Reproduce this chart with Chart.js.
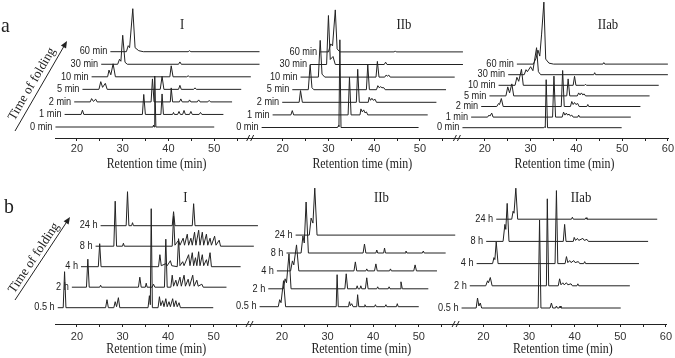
<!DOCTYPE html>
<html>
<head>
<meta charset="utf-8">
<script src="https://cdn.jsdelivr.net/npm/chart.js@4.4.1/dist/chart.umd.min.js"></script>
<style>
html, body { margin: 0; padding: 0; background: #fff; }
#wrap { position: relative; width: 675px; height: 358px; overflow: hidden; }
canvas { position: absolute; left: 0; }
</style>
</head>
<body>
<div id="wrap">
  <canvas id="rowA" width="675" height="175" style="top:0"></canvas>
  <canvas id="rowB" width="675" height="183" style="top:175px"></canvas>
</div>
<script>
// folding times (one trace each) and panel names
const panelNames = ["I", "IIb", "IIab"];
const timesA = ["0 min", "1 min", "2 min", "5 min", "10 min", "30 min", "60 min"];
const timesB = ["0.5 h", "2 h", "4 h", "8 h", "24 h"];
const xAxisTitle = "Retention time (min)";
const yArrowTitle = "Time of folding";

// start/end of each trace, read on the panel's own axis (min)
const spansAI = [[15.3, 50], [17.3, 52], [19.4, 53.9], [21.2, 55.9], [23.2, 58], [25.3, 59.9], [27.3, 59.9]];
const spansAIIb = [[15.4, 49.7], [17.8, 51.7], [19.9, 53.6], [22.1, 55.7], [23.9, 57.6], [26.0, 59.4], [28.2, 59.4]];
const spansAIIab = [[15.1, 49.9], [17.0, 51.9], [19.2, 54], [21.0, 56], [23.0, 58], [25.1, 60], [27.0, 60]];
const spansBI = [[15.8, 49.9], [18.9, 52.8], [20.9, 55.9], [24.1, 58.8], [25.2, 59.7]];
const spansBIIb = [[15.1, 50.0], [17.0, 52.1], [18.9, 54.0], [21.0, 55.9], [23.0, 58.0]];
const spansBIIab = [[15.2, 50.1], [17.0, 52.1], [18.5, 54.1], [20.6, 56.1], [22.8, 58.1]];

// chromatogram points [time, height above the trace baseline, ...]
const peaksAI = [
  [36.6,0, 36.75,2, 36.85,0, 37.0,51, 37.25,0],
  [20.9,0, 21.2,4.3, 21.5,0, 34.3,0, 34.6,20, 34.95,0, 38.35,0, 38.6,20.5, 38.9,0, 40.9,0, 41.1,2, 41.3,0, 42.0,0, 42.3,3, 42.6,0, 43.1,0, 43.4,4, 43.7,0, 44.6,0, 44.9,3, 45.2,0, 46.7,0, 47.0,2, 47.3,0],
  [22.9,0, 23.2,3.3, 23.6,0.5, 24.1,2.7, 24.4,0, 36.2,0, 36.5,23, 36.85,0, 40.4,0, 40.6,14, 40.9,0, 42.4,0, 42.7,3, 43.0,0, 44.4,0, 44.6,2, 44.9,0, 46.3,0, 46.6,2, 46.9,0, 48.6,0, 48.9,1.5, 49.2,0],
  [24.8,0, 25.2,7.7, 25.6,2, 26.2,6, 26.6,0, 38.2,0, 38.6,13, 39.0,0, 42.2,0, 42.5,4, 42.8,0, 45.5,0, 45.8,1.5, 46.1,0],
  [26.7,0, 27.0,6.7, 27.4,2, 27.9,13, 28.4,0, 40.3,0, 40.6,11, 41.0,0, 44.0,0, 44.3,1, 44.6,0],
  [28.9,0, 29.3,5, 29.6,3, 30.0,29, 30.5,2, 31.0,0, 42.2,0, 42.5,2.3, 42.8,0],
  [30.8,0, 31.2,6, 31.5,4, 32.2,43, 32.7,4, 33.5,1, 34.5,0, 44.3,0, 44.6,1, 44.9,0]
];
const peaksAIIb = [
  [32.0,0, 32.2,2, 32.3,1, 32.5,87.7, 32.75,0],
  [21.8,0, 22.1,4.3, 22.4,0, 34.3,0, 34.6,37.7, 34.95,0, 36.9,0, 37.1,6, 37.4,3, 37.7,5, 38.0,2, 38.3,3, 38.6,0],
  [23.6,0, 23.9,11.7, 24.3,0, 36.1,0, 36.4,33, 36.75,0, 38.7,0, 38.9,5, 39.2,2, 39.5,4, 39.8,2, 40.2,3, 40.5,0],
  [25.6,0, 26.0,25, 26.4,2, 26.8,0, 38.3,0, 38.6,25, 38.95,0, 40.5,0, 40.8,4, 41.1,2, 41.4,3, 41.7,2, 42.1,2, 42.4,0],
  [27.8,0, 28.2,36.7, 28.6,3, 29.2,0, 40.4,0, 40.7,15.7, 41.05,0, 42.3,0, 42.6,2, 42.9,1, 43.2,2, 43.5,0],
  [29.6,0, 30.0,49, 30.4,5, 31.0,8, 31.5,0, 42.2,0, 42.5,2.3, 42.8,0],
  [30.0,0, 30.5,8, 30.9,6, 31.5,42, 31.9,3, 32.5,0, 44.4,0, 44.6,1, 44.8,0]
];
const peaksAIIab = [
  [32.9,0, 33.1,1, 33.2,0, 33.4,48, 33.7,0],
  [20.6,0, 20.9,2, 21.1,1, 21.5,4, 21.8,0, 34.8,0, 35.1,41, 35.45,0, 36.9,0, 37.2,5, 37.5,2, 37.8,4, 38.1,2, 38.4,3, 38.7,1, 39.0,2, 39.3,0, 40.3,0, 40.5,2, 40.7,0],
  [22.6,0, 23.0,3, 23.2,2, 23.6,8, 24.0,0, 36.7,0, 37.0,36, 37.35,0, 38.7,0, 39.0,5, 39.3,2, 39.6,4, 39.9,2, 40.3,3, 40.6,0, 42.3,0, 42.5,2, 42.7,0],
  [24.6,0, 25.0,9, 25.4,3, 25.9,12, 26.3,0, 37.9,0, 38.2,17, 38.55,0, 40.2,0, 40.5,3, 40.8,1, 41.1,3, 41.4,1, 41.7,2, 42.0,0],
  [26.6,0, 27.0,8, 27.4,4, 28.0,16, 28.4,0, 39.3,0, 39.6,9, 39.9,0, 41.8,0, 42.0,1, 42.2,0],
  [28.6,0, 29.0,5, 29.3,3, 30.0,8, 30.5,4, 31.3,27, 31.7,3, 32.2,0, 43.8,0, 44.0,2, 44.2,0],
  [30.6,0, 31.2,6, 31.6,14, 32.0,8, 32.4,30, 32.9,62, 33.3,5, 34.0,1, 35.0,0, 45.8,0, 46.0,1.5, 46.2,0]
];
const peaksBI = [
  [17.0,0, 17.3,36, 17.6,0, 26.3,0, 26.6,8, 26.9,0, 28.1,0, 28.4,6, 28.7,1, 29.1,10, 29.4,0, 35.6,0, 35.9,12, 36.1,3, 36.3,99, 36.55,0, 37.8,0, 38.1,11, 38.4,2, 38.8,7, 39.1,1, 39.5,9, 39.8,1, 40.2,6, 40.5,1, 41.0,9, 41.3,1, 41.7,7, 42.0,1, 42.4,5, 42.7,0],
  [22.1,0, 22.4,28, 22.7,0, 25.0,0, 25.2,2, 25.4,0, 33.5,0, 33.8,10, 34.1,0, 35.0,0, 35.2,4, 35.4,0, 36.5,0, 36.8,3, 37.1,0, 39.2,0, 39.5,48, 39.8,0, 40.6,0, 40.9,12, 41.2,1, 41.7,7, 42.0,1, 42.6,10, 42.9,1, 43.5,12, 43.8,1, 44.4,8, 44.7,1, 45.4,12, 45.7,1, 46.3,7, 46.6,1, 47.4,3, 47.7,0],
  [24.7,0, 25.0,23, 25.3,0, 37.9,0, 38.2,12, 38.5,1, 39.5,3, 39.8,1, 40.5,6, 40.8,1, 42.0,0, 42.3,28, 42.6,1, 43.2,5, 43.5,1, 44.5,12, 44.8,1, 45.3,14, 45.6,1, 46.0,9, 46.3,1, 46.7,15, 47.0,1, 47.5,12, 47.8,1, 48.4,7, 48.7,1, 49.2,14, 49.5,0],
  [28.1,0, 28.4,45, 28.7,0, 30.0,0, 30.2,3, 30.4,0, 40.9,0, 41.2,30, 41.5,1, 42.3,6, 42.6,1, 43.3,8, 43.6,1, 44.2,12, 44.5,1, 45.0,8, 45.3,1, 45.8,14, 46.1,1, 46.7,16, 47.0,1, 47.5,14, 47.8,1, 48.4,12, 48.7,1, 49.2,8, 49.5,1, 50.2,10, 50.5,1, 51.2,6, 51.5,0],
  [30.8,0, 31.1,34, 31.4,0, 32.0,0, 32.2,3, 32.4,0, 40.9,0, 41.2,14, 41.5,0, 45.3,0, 45.6,22, 45.9,0]
];
const peaksBIIb = [
  [19.2,0, 19.5,7, 19.8,4, 20.35,26, 20.8,0, 31.9,0, 32.1,32, 32.35,0, 34.6,0, 34.8,5, 35.0,1, 35.3,3, 35.6,0, 36.4,0, 36.6,12, 36.85,0, 38.0,0, 38.2,2, 38.4,0, 40.3,0, 40.5,2, 40.7,0, 42.6,0, 42.8,2, 43.0,0, 45.1,0, 45.3,3, 45.5,0],
  [20.3,0, 20.7,10, 21.0,6, 21.55,35, 22.0,0, 33.8,0, 34.1,15, 34.4,0, 36.3,0, 36.5,3, 36.7,0, 37.1,0, 37.3,3, 37.5,0, 38.3,0, 38.6,11, 38.9,0, 40.8,0, 41.0,2, 41.2,0, 43.3,0, 43.5,2, 43.7,0, 45.9,0, 46.1,7, 46.4,0],
  [21.9,0, 22.3,10, 22.6,6, 23.2,26, 23.7,0, 35.8,0, 36.1,9, 36.4,0, 38.4,0, 38.6,2, 38.8,0, 40.3,0, 40.6,7, 40.9,0, 43.6,0, 43.8,2, 44.0,0, 48.9,0, 49.2,6, 49.5,0],
  [24.2,0, 24.6,17, 24.9,10, 25.3,51, 25.8,0, 37.8,0, 38.1,9, 38.4,0, 40.6,0, 40.8,3, 41.0,0, 42.3,0, 42.5,5, 42.7,0, 47.0,0, 47.2,2, 47.4,0, 50.8,0, 51.0,2, 51.2,0],
  [26.0,0, 26.4,17, 26.8,12, 27.2,47, 27.7,0]
];
const peaksBIIab = [
  [18.4,0, 18.7,10, 19.0,2, 19.3,5, 19.6,0, 32.0,0, 32.3,88, 32.6,0, 34.6,0, 34.9,5, 35.2,0, 35.8,0, 36.0,2, 36.2,0, 36.6,0, 36.8,2, 37.0,0],
  [20.5,0, 20.9,5, 21.1,3, 21.5,8.3, 21.9,0, 33.8,0, 34.0,87, 34.3,0, 36.4,0, 36.7,7, 37.0,1, 37.4,3, 37.7,1, 38.2,3, 38.5,1, 39.2,2, 39.5,0, 40.5,0, 40.7,2, 40.9,0],
  [22.0,0, 22.3,6, 22.5,4, 22.8,21.7, 23.2,0, 35.7,0, 36.0,73, 36.3,0, 37.9,0, 38.2,7, 38.5,1, 38.9,3, 39.2,1, 39.8,3, 40.1,1, 40.8,2, 41.1,0, 42.0,0, 42.2,2, 42.4,0],
  [24.3,0, 24.7,17, 24.9,12, 25.2,38, 25.6,0, 37.5,0, 37.8,17, 38.1,0, 39.7,0, 39.9,4, 40.2,1, 40.6,3, 40.9,1, 41.8,3, 42.1,1, 42.7,2, 43.0,0],
  [26.2,0, 26.5,8, 26.7,6, 27.1,31, 27.5,0, 39.3,0, 39.5,2, 39.7,0, 42.3,0, 42.5,1.5, 42.7,0]
];

// ---- layout (not data) ----
const X_MIN = 15.5, X_MAX = 149.5;
const panelOffset = [0.3, 45.26, 89.45];  // where each panel's axis sits on the shared x scale
const panelAxisEnd = [55, 55, 60];
const breakAt = [null, 13.0, 14.0];
const ink = "#222";

function traceData(span, pts, off, base) {
  const d = [{ x: span[0] + off, y: base }];
  for (let i = 0; i < pts.length; i += 2) d.push({ x: pts[i] + off, y: base + pts[i + 1] });
  d.push({ x: span[1] + off, y: base });
  return d;
}

function buildTicks() {
  const list = [];
  panelOffset.forEach((off, p) => {
    for (let v = 20; v <= panelAxisEnd[p]; v += 5) {
      list.push({ value: v + off, label: v % 10 === 0 ? String(v) : "" });
    }
  });
  return list;
}
const tickList = buildTicks();

function drawScaled(ctx, text, x, y, font, sx, align) {
  ctx.save();
  ctx.translate(x, y);
  ctx.scale(sx, 1);
  ctx.font = font;
  ctx.fillStyle = ink;
  ctx.textAlign = align || "center";
  ctx.textBaseline = "middle";
  ctx.fillText(text, 0, 0);
  ctx.restore();
}

function decorPlugin(cfg) {
  return {
    id: "decor" + cfg.letter,
    afterDraw(chart) {
      const ctx = chart.ctx;
      const xs = chart.scales.x, ys = chart.scales.y;
      // trace labels
      chart.data.datasets.forEach(ds => {
        const p0 = ds.data[0];
        drawScaled(ctx, ds.label, xs.getPixelForValue(p0.x) - 3, ys.getPixelForValue(p0.y), "10px 'Liberation Sans', Arial, sans-serif", 0.92, "right");
      });
      // panel names and axis titles
      panelNames.forEach((name, p) => {
        drawScaled(ctx, name, xs.getPixelForValue(cfg.titleV[p] + panelOffset[p]), cfg.titleY, "15px 'Liberation Serif', 'Times New Roman', serif", 0.85);
        drawScaled(ctx, xAxisTitle, xs.getPixelForValue(37.4 + panelOffset[p]), cfg.axisTitleY, "14px 'Liberation Serif', 'Times New Roman', serif", 0.85);
      });
      // axis break marks
      const yAx = xs.top;
      ctx.save();
      ctx.strokeStyle = ink;
      ctx.lineWidth = 1;
      breakAt.forEach((b, p) => {
        if (b === null) return;
        const bx = xs.getPixelForValue(b + panelOffset[p]);
        ctx.beginPath();
        ctx.moveTo(bx - 4, yAx + 3); ctx.lineTo(bx - 1, yAx - 3);
        ctx.moveTo(bx, yAx + 3); ctx.lineTo(bx + 3, yAx - 3);
        ctx.stroke();
      });
      // arrow "Time of folding"
      const [tx, ty, hx, hy] = cfg.arrow;
      const ang = Math.atan2(hy - ty, hx - tx);
      ctx.beginPath();
      ctx.moveTo(tx, ty); ctx.lineTo(hx - 5 * Math.cos(ang), hy - 5 * Math.sin(ang));
      ctx.stroke();
      ctx.fillStyle = ink;
      ctx.beginPath();
      ctx.moveTo(hx, hy);
      ctx.lineTo(hx - 7 * Math.cos(ang) + 3 * Math.sin(ang), hy - 7 * Math.sin(ang) - 3 * Math.cos(ang));
      ctx.lineTo(hx - 7 * Math.cos(ang) - 3 * Math.sin(ang), hy - 7 * Math.sin(ang) + 3 * Math.cos(ang));
      ctx.closePath();
      ctx.fill();
      ctx.translate(cfg.arrowText[0], cfg.arrowText[1]);
      ctx.rotate(ang);
      drawScaled(ctx, yArrowTitle, 0, 0, "13px 'Liberation Serif', 'Times New Roman', serif", 1);
      ctx.restore();
      // row letter
      drawScaled(ctx, cfg.letter, cfg.letterPos[0], cfg.letterPos[1], "22px 'Liberation Serif', 'Times New Roman', serif", 0.9, "left");
    }
  };
}

function makeRow(canvasId, times, spans, peaks, bases, cfg) {
  const datasets = [];
  spans.forEach((sp, p) => {
    times.forEach((t, k) => {
      const base = bases[p][0] + k * bases[p][1];
      datasets.push({
        label: t,
        data: traceData(sp[k], peaks[p][k], panelOffset[p], base),
        borderColor: ink,
        borderWidth: 1,
        pointRadius: 0,
        tension: 0,
        fill: false
      });
    });
  });
  return new Chart(document.getElementById(canvasId), {
    type: "line",
    data: { datasets },
    options: {
      responsive: false,
      animation: false,
      events: [],
      layout: { padding: { left: 55, right: 6, top: 0, bottom: 0 } },
      plugins: { legend: { display: false }, tooltip: { enabled: false } },
      scales: {
        x: {
          type: "linear",
          min: X_MIN,
          max: X_MAX,
          afterBuildTicks: s => { s.ticks = tickList.map(t => ({ value: t.value })); },
          afterFit: s => { s.height = cfg.axisH; },
          ticks: {
            autoSkip: false,
            maxRotation: 0,
            padding: cfg.tickPad,
            color: "#333",
            font: { family: "'Liberation Sans', Arial, sans-serif", size: 11 },
            callback: (v, i) => tickList[i] ? tickList[i].label : ""
          },
          grid: { drawOnChartArea: false, tickLength: 3, color: ink },
          border: { display: true, color: ink, width: 1 }
        },
        y: { display: false, min: 0, max: cfg.yMax }
      }
    },
    plugins: [decorPlugin(cfg)]
  });
}

makeRow("rowA", timesA, [spansAI, spansAIIb, spansAIIab], [peaksAI, peaksAIIb, peaksAIIab],
  [[11, 12.55], [10.5, 12.6], [10.3, 10.6]],
  { letter: "a", letterPos: [1, 26], yMax: 138, axisH: 37, tickPad: 1, titleY: 25, axisTitleY: 164,
    titleV: [43, 46.5, 46.9], arrow: [15, 131, 67, 41], arrowText: [32, 84] });

makeRow("rowB", timesB, [spansBI, spansBIIb, spansBIIab], [peaksBI, peaksBIIb, peaksBIIab],
  [[16.3, 20.5], [17.3, 17.9], [16, 22.2]],
  { letter: "b", letterPos: [4, 32], yMax: 149, axisH: 34, tickPad: 3, titleY: 23, axisTitleY: 174,
    titleV: [43.8, 41.8, 41.4], arrow: [15, 125, 70, 42], arrowText: [34, 83] });
</script>
</body>
</html>
